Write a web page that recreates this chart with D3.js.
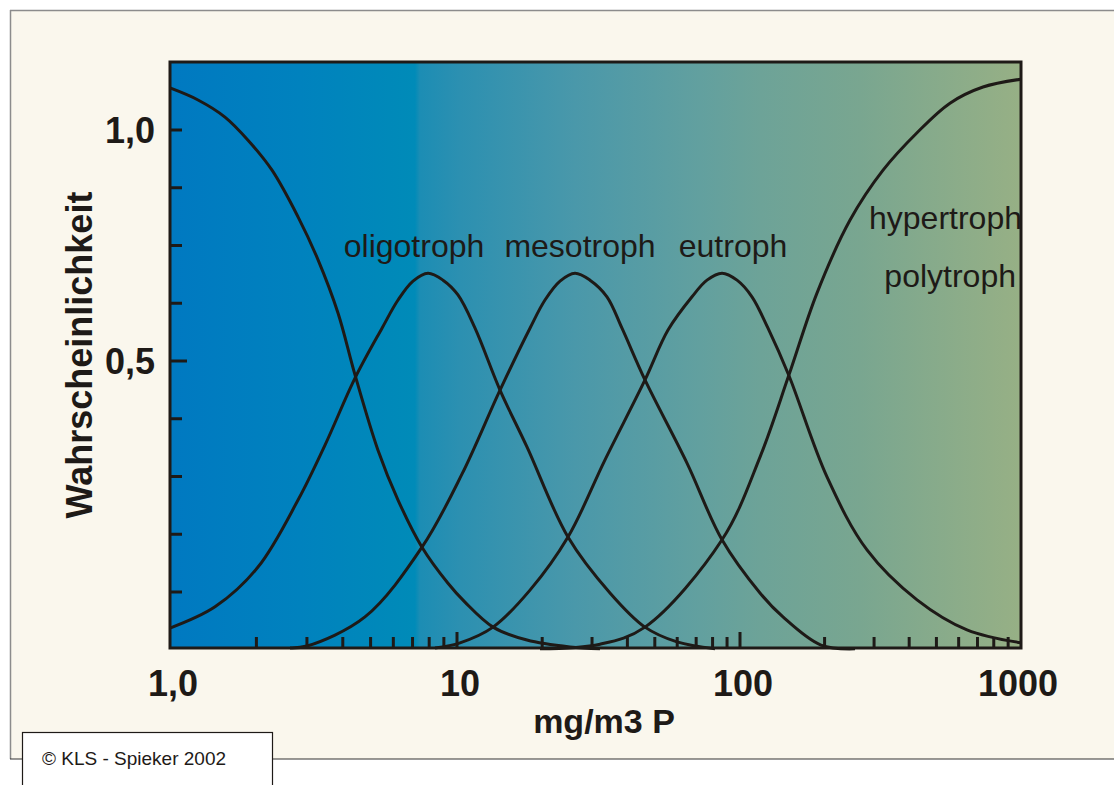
<!DOCTYPE html>
<html>
<head>
<meta charset="utf-8">
<script src="https://cdn.jsdelivr.net/npm/d3@7"></script>
<style>
    body { margin: 0; background: #ffffff; }
    svg { display: block; }
    text { font-family: "Liberation Sans", Arial, sans-serif; fill: #1e1a17; }
</style>
</head>
<body>
<svg id="chart" width="1114" height="785"></svg>
<script>
// x axis (mg/m3 P, log) and y axis (Wahrscheinlichkeit)
const xTickValues = [1, 10, 100, 1000];
const xTickLabels = ['1,0', '10', '100', '1000'];
const xMinorTicks = [2, 3, 4, 5, 6, 7, 8, 9, 20, 30, 40, 50, 60, 70, 80, 90, 200, 300, 400, 500, 600, 700, 800, 900];
const yLabelValues = [1.0, 0.5];
const yTickLabels = ['1,0', '0,5'];
const yMinorTicks = [0, 0.125, 0.25, 0.375, 0.625, 0.75, 0.875];

const curveNames = ['oligotroph', 'mesotroph', 'eutroph', 'hypertroph', 'polytroph'];

// curves
const ultraX = [1, 1.252, 1.554, 1.870, 2.267, 2.793, 3.280, 3.849, 4.412, 5.305, 6.230, 7.551, 9.302, 10.67, 13.41, 17.67, 25.07, 32.01];
const ultraY = [1.091, 1.065, 1.028, 0.978, 0.913, 0.812, 0.719, 0.604, 0.470, 0.307, 0.199, 0.097, 0.019, -0.022, -0.076, -0.104, -0.119, -0.123];

const oligoX = [1, 1.435, 2.026, 2.793, 3.468, 4.412, 5.479, 6.230, 7.026, 7.925, 8.938, 10.08, 11.58, 14.19, 17.67, 24.67, 34.72, 46.16, 59.91, 81.59];
const oligoY = [-0.078, -0.032, 0.054, 0.199, 0.318, 0.463, 0.571, 0.632, 0.673, 0.690, 0.675, 0.643, 0.571, 0.437, 0.314, 0.119, -0.002, -0.076, -0.108, -0.123];

const mesoX = [2.619, 3.002, 4.779, 7.551, 10.41, 14.19, 18.11, 20.46, 23.12, 26.12, 29.51, 33.88, 38.28, 46.16, 64.97, 86.39, 117.8, 142.2, 194.2, 256.7];
const mesoY = [-0.121, -0.117, -0.054, 0.097, 0.255, 0.437, 0.571, 0.632, 0.673, 0.690, 0.675, 0.639, 0.571, 0.459, 0.279, 0.113, -0.002, -0.054, -0.115, -0.123];

const eutroX = [8.382, 10.25, 13.41, 18.11, 24.67, 33.34, 46.16, 55.67, 67.67, 76.45, 86.39, 97.59, 110.3, 125.8, 149.4, 204.0, 283.1, 426.6, 642.4, 1000];
const eutroY = [-0.121, -0.110, -0.076, 0.004, 0.119, 0.286, 0.459, 0.567, 0.639, 0.675, 0.690, 0.675, 0.639, 0.571, 0.468, 0.249, 0.091, -0.017, -0.082, -0.110];

const hyperX = [19.65, 32.01, 46.16, 86.39, 117.8, 149.4, 187.9, 246.4, 322.9, 426.6, 558.8, 732.2, 1000];
const hyperY = [-0.123, -0.113, -0.076, 0.113, 0.292, 0.470, 0.647, 0.805, 0.913, 0.994, 1.058, 1.093, 1.110];

const svg = d3.select('#chart');
const ink = '#1e1a17';

const plot = { left: 170, right: 1021, top: 62, bottom: 648 };

const x = d3.scaleLog()
    .domain([1, 10, 100, 1000])
    .range([170, 457, 740, 1021]);

const y = d3.scaleLinear()
    .domain([0, 1])
    .range([592, 130]);

// page frame
svg.append('rect')
    .attr('x', 10).attr('y', 10)
    .attr('width', 1104).attr('height', 749)
    .attr('fill', '#faf7ed');
svg.append('line').attr('x1', 10).attr('y1', 10.5).attr('x2', 1114).attr('y2', 10.5)
    .attr('stroke', '#8c8c8c').attr('stroke-width', 1.5);
svg.append('line').attr('x1', 10.5).attr('y1', 10).attr('x2', 10.5).attr('y2', 759)
    .attr('stroke', '#8c8c8c').attr('stroke-width', 1.5);
svg.append('line').attr('x1', 10).attr('y1', 759).attr('x2', 1114).attr('y2', 759)
    .attr('stroke', '#333333').attr('stroke-width', 1.2);

// background gradient
const grad = svg.append('defs').append('linearGradient')
    .attr('id', 'bg')
    .attr('gradientUnits', 'userSpaceOnUse')
    .attr('x1', plot.left).attr('x2', plot.right)
    .attr('y1', 0).attr('y2', 0);

const stops = [
    [170, '#0079c1'], [300, '#0082be'], [415, '#008bb8'], [420, '#1c8db4'],
    [460, '#2c90b1'], [575, '#4a98aa'], [700, '#62a09f'], [760, '#6da398'],
    [860, '#79a690'], [1021, '#97b085']
];
stops.forEach(function(s) {
    grad.append('stop')
        .attr('offset', (s[0] - plot.left) / (plot.right - plot.left))
        .attr('stop-color', s[1]);
});

svg.append('rect')
    .attr('x', plot.left).attr('y', plot.top)
    .attr('width', plot.right - plot.left).attr('height', plot.bottom - plot.top)
    .attr('fill', 'url(#bg)');

// curves
const line = d3.line()
    .x(function(d) { return x(d[0]); })
    .y(function(d) { return y(d[1]); })
    .curve(d3.curveCatmullRom.alpha(0.5));

const series = [
    d3.zip(ultraX, ultraY),
    d3.zip(oligoX, oligoY),
    d3.zip(mesoX, mesoY),
    d3.zip(eutroX, eutroY),
    d3.zip(hyperX, hyperY)
];

svg.append('g').selectAll('path')
    .data(series)
    .enter()
        .append('path')
            .attr('d', line)
            .attr('fill', 'none')
            .attr('stroke', ink)
            .attr('stroke-width', 3);

// ticks
svg.append('g').selectAll('line')
    .data(yMinorTicks.concat(yLabelValues))
    .enter()
        .append('line')
            .attr('x1', plot.left)
            .attr('x2', function(d) { return plot.left + (d === 0.5 ? 17 : 12); })
            .attr('y1', function(d) { return y(d); })
            .attr('y2', function(d) { return y(d); })
            .attr('stroke', ink)
            .attr('stroke-width', 3);

svg.append('g').selectAll('line')
    .data(xMinorTicks.concat([10, 100]))
    .enter()
        .append('line')
            .attr('x1', function(d) { return x(d); })
            .attr('x2', function(d) { return x(d); })
            .attr('y1', plot.bottom)
            .attr('y2', function(d) { return plot.bottom - (d === 10 || d === 100 ? 16 : 11); })
            .attr('stroke', ink)
            .attr('stroke-width', 3);

// plot border
svg.append('rect')
    .attr('x', plot.left).attr('y', plot.top)
    .attr('width', plot.right - plot.left).attr('height', plot.bottom - plot.top)
    .attr('fill', 'none')
    .attr('stroke', ink)
    .attr('stroke-width', 3);

// tick labels
svg.append('g').selectAll('text')
    .data(yLabelValues)
    .enter()
        .append('text')
            .attr('x', 155)
            .attr('y', function(d) { return y(d) + 13; })
            .attr('text-anchor', 'end')
            .attr('font-size', 36)
            .attr('font-weight', 'bold')
            .text(function(d, i) { return yTickLabels[i]; });

svg.append('g').selectAll('text')
    .data(xTickValues)
    .enter()
        .append('text')
            .attr('x', function(d, i) { return x(d) + (i === 3 ? -3 : 3); })
            .attr('y', 696)
            .attr('text-anchor', 'middle')
            .attr('font-size', 36)
            .attr('font-weight', 'bold')
            .text(function(d, i) { return xTickLabels[i]; });

// axis titles
svg.append('text')
    .attr('transform', 'translate(92,355) rotate(-90)')
    .attr('text-anchor', 'middle')
    .attr('font-size', 36)
    .attr('font-weight', 'bold')
    .text('Wahrscheinlichkeit');

svg.append('text')
    .attr('x', 604).attr('y', 733)
    .attr('text-anchor', 'middle')
    .attr('font-size', 34)
    .attr('font-weight', 'bold')
    .text('mg/m3 P');

// curve labels
const labelPos = [[414, 257, 'middle'], [580, 257, 'middle'], [733, 257, 'middle'], [1022, 229, 'end'], [1016, 287, 'end']];
svg.append('g').selectAll('text')
    .data(curveNames)
    .enter()
        .append('text')
            .attr('x', function(d, i) { return labelPos[i][0]; })
            .attr('y', function(d, i) { return labelPos[i][1]; })
            .attr('text-anchor', function(d, i) { return labelPos[i][2]; })
            .attr('font-size', 32)
            .text(function(d) { return d; });

// copyright box
svg.append('rect')
    .attr('x', 22.5).attr('y', 732.5)
    .attr('width', 250).attr('height', 60)
    .attr('fill', '#ffffff')
    .attr('stroke', ink)
    .attr('stroke-width', 1.2);

svg.append('text')
    .attr('x', 42).attr('y', 765)
    .attr('font-size', 19)
    .text('\u00a9 KLS - Spieker 2002');
</script>
</body>
</html>
